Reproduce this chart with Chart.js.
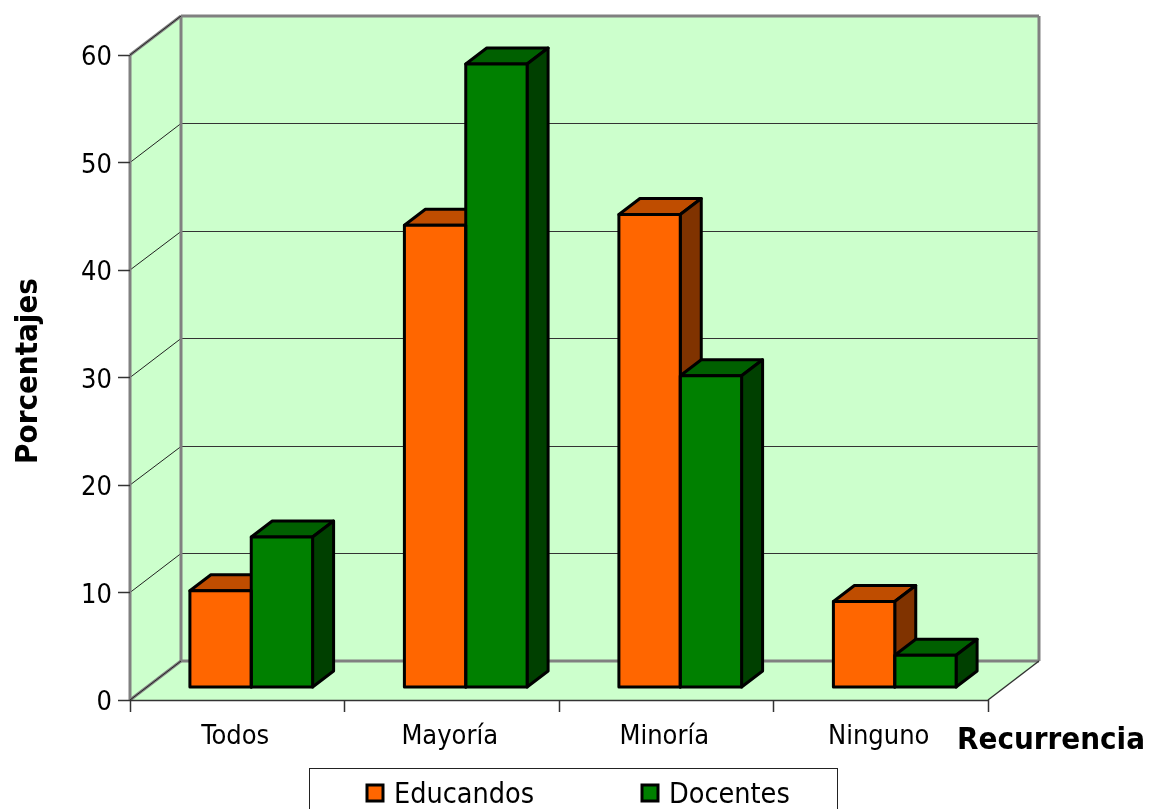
<!DOCTYPE html>
<html>
<head>
<meta charset="utf-8">
<title>Recurrencia</title>
<script src="https://cdn.jsdelivr.net/npm/chart.js@4"></script>
<style>
    html, body { margin: 0; padding: 0; background: #fff; overflow: hidden; }
    canvas { display: block; }
</style>
</head>
<body>
<canvas id="grafico" width="1150" height="809"></canvas>
<script>
const categorias = ['Todos', 'Mayoría', 'Minoría', 'Ninguno'];
const educandos = [9, 43, 44, 8];
const docentes = [14, 58, 29, 3];
const ticksY = [0, 10, 20, 30, 40, 50, 60];

const FONTE = '"DejaVu Sans Condensed", "DejaVu Sans", sans-serif';
const FUNDO = { x: 51, y: -39 };   // back wall offset
const FRENTE = { x: 14, y: -12.5 }; // where the bars stand on the floor
const PROF = { x: 21, y: -16 };    // bar depth

const poligono = (ctx, pts, fill, stroke, lw) => {
    ctx.beginPath();
    pts.forEach((p, i) => i ? ctx.lineTo(p[0], p[1]) : ctx.moveTo(p[0], p[1]));
    ctx.closePath();
    if (fill) { ctx.fillStyle = fill; ctx.fill(); }
    if (stroke) { ctx.strokeStyle = stroke; ctx.lineWidth = lw; ctx.lineJoin = 'round'; ctx.stroke(); }
};

const linha = (ctx, x1, y1, x2, y2, cor, lw) => {
    ctx.beginPath();
    ctx.moveTo(x1, y1);
    ctx.lineTo(x2, y2);
    ctx.strokeStyle = cor;
    ctx.lineWidth = lw;
    ctx.stroke();
};

const caixa3d = {
    id: 'caixa3d',
    beforeDraw(chart) {
        const { ctx, chartArea: a, scales: { y } } = chart;
        const l = a.left, r = a.right, t = a.top, b = a.bottom;
        const dx = FUNDO.x, dy = FUNDO.y;
        ctx.save();
        poligono(ctx, [[l, t], [l + dx, t + dy], [l + dx, b + dy], [l, b]], '#CCFFCC');
        poligono(ctx, [[l + dx, t + dy], [r + dx, t + dy], [r + dx, b + dy], [l + dx, b + dy]], '#CCFFCC');
        poligono(ctx, [[l, b], [l + dx, b + dy], [r + dx, b + dy], [r, b]], '#CCFFCC');

        ticksY.slice(1, -1).forEach(v => {
            const py = y.getPixelForValue(v);
            const pf = Math.floor(py + dy) + 0.5;
            linha(ctx, l, py, l + dx, pf, '#222', 1);
            linha(ctx, l + dx, pf, r + dx, pf, '#333', 1);
        });

        const cinza = '#808080';
        linha(ctx, l, t, l, b, cinza, 3);
        linha(ctx, l + dx, t + dy, l + dx, b + dy, cinza, 3);
        linha(ctx, l + dx, t + dy, r + dx, t + dy, cinza, 3);
        linha(ctx, r + dx, t + dy, r + dx, b + dy, cinza, 3);
        linha(ctx, l + dx, b + dy, r + dx, b + dy, cinza, 3);
        linha(ctx, l, t, l + dx, t + dy, cinza, 3);
        linha(ctx, l, b, l + dx, b + dy, cinza, 3);
        linha(ctx, l, t, l + dx, t + dy, '#222', 1);
        linha(ctx, l, b, l + dx, b + dy, '#222', 1);
        linha(ctx, l, b + 0.5, r, b + 0.5, '#333', 1.5);
        linha(ctx, r, b, r + dx, b + dy, '#333', 1.5);
        ctx.restore();
    },
    beforeDatasetsDraw(chart) {
        const { ctx } = chart;
        ctx.save();
        ctx.translate(FRENTE.x, FRENTE.y);
        // back faces go first, Educandos before Docentes so green sits over orange
        chart.data.datasets.forEach((ds, i) => {
            chart.getDatasetMeta(i).data.forEach(bar => {
                const e = bar.x - bar.width / 2, d = bar.x + bar.width / 2;
                poligono(ctx, [[e, bar.y], [e + PROF.x, bar.y + PROF.y], [d + PROF.x, bar.y + PROF.y], [d, bar.y]], ds.corTopo, '#000', 3);
                poligono(ctx, [[d, bar.y], [d + PROF.x, bar.y + PROF.y], [d + PROF.x, bar.base + PROF.y], [d, bar.base]], ds.corLado, '#000', 3);
            });
        });
    },
    afterDatasetsDraw(chart) {
        const { ctx } = chart;
        chart.data.datasets.forEach((ds, i) => {
            chart.getDatasetMeta(i).data.forEach(bar => {
                const e = bar.x - bar.width / 2, d = bar.x + bar.width / 2;
                poligono(ctx, [[e, bar.y], [d, bar.y], [d, bar.base], [e, bar.base]], null, '#000', 3);
            });
        });
        ctx.restore();
    },
    afterDraw(chart) {
        const { ctx } = chart;
        ctx.save();
        ctx.fillStyle = '#000';
        ctx.textBaseline = 'alphabetic';

        // axis titles
        ctx.font = 'bold 31px ' + FONTE;
        ctx.textAlign = 'left';
        ctx.fillText('Recurrencia', 957, 749);
        ctx.save();
        ctx.translate(37, 371);
        ctx.rotate(-Math.PI / 2);
        ctx.textAlign = 'center';
        ctx.fillText('Porcentajes', 0, 0);
        ctx.restore();

        // legend box, its bottom edge falls outside the page like in the original
        ctx.fillStyle = '#fff';
        ctx.fillRect(309, 768, 528, 60);
        ctx.strokeStyle = '#222';
        ctx.lineWidth = 1;
        ctx.strokeRect(309.5, 768.5, 528, 60);
        const posLegenda = [367, 642];
        chart.data.datasets.forEach((ds, i) => {
            const x = posLegenda[i];
            ctx.fillStyle = ds.backgroundColor;
            ctx.fillRect(x, 785, 16, 16);
            ctx.strokeStyle = '#000';
            ctx.lineWidth = 3;
            ctx.strokeRect(x, 785, 16, 16);
            ctx.fillStyle = '#000';
            ctx.font = '28.5px ' + FONTE;
            ctx.textAlign = 'left';
            ctx.fillText(ds.label, x + 27, 803);
        });
        ctx.restore();
    }
};

new Chart(document.getElementById('grafico'), {
    type: 'bar',
    data: {
        labels: categorias,
        datasets: [{
            label: 'Educandos',
            data: educandos,
            backgroundColor: '#FF6600',
            corTopo: '#BF4D00',
            corLado: '#803300'
        }, {
            label: 'Docentes',
            data: docentes,
            backgroundColor: '#008000',
            corTopo: '#006000',
            corLado: '#004000'
        }]
    },
    options: {
        responsive: false,
        animation: false,
        layout: { padding: { top: 55, right: 162, left: 0, bottom: 0 } },
        datasets: { bar: { barPercentage: 1, categoryPercentage: 0.572, borderWidth: 0, clip: false } },
        scales: {
            x: {
                afterFit: s => { s.height = 109; },
                grid: { drawOnChartArea: false, tickLength: 12, tickColor: '#333', tickWidth: 1.5 },
                border: { display: false },
                ticks: { color: '#000', padding: 9, labelOffset: -2, maxRotation: 0, font: { size: 27, family: FONTE } }
            },
            y: {
                min: 0,
                max: 60,
                afterFit: s => { s.width = 130; },
                afterBuildTicks: s => { s.ticks = ticksY.map(v => ({ value: v })); },
                grid: { drawOnChartArea: false, tickLength: 12, tickColor: '#333', tickWidth: 1.5 },
                border: { display: false },
                ticks: { color: '#000', padding: 6, labelOffset: 3, font: { size: 27, family: FONTE } }
            }
        },
        plugins: {
            legend: { display: false },
            tooltip: { enabled: false }
        }
    },
    plugins: [caixa3d]
});
</script>
</body>
</html>
